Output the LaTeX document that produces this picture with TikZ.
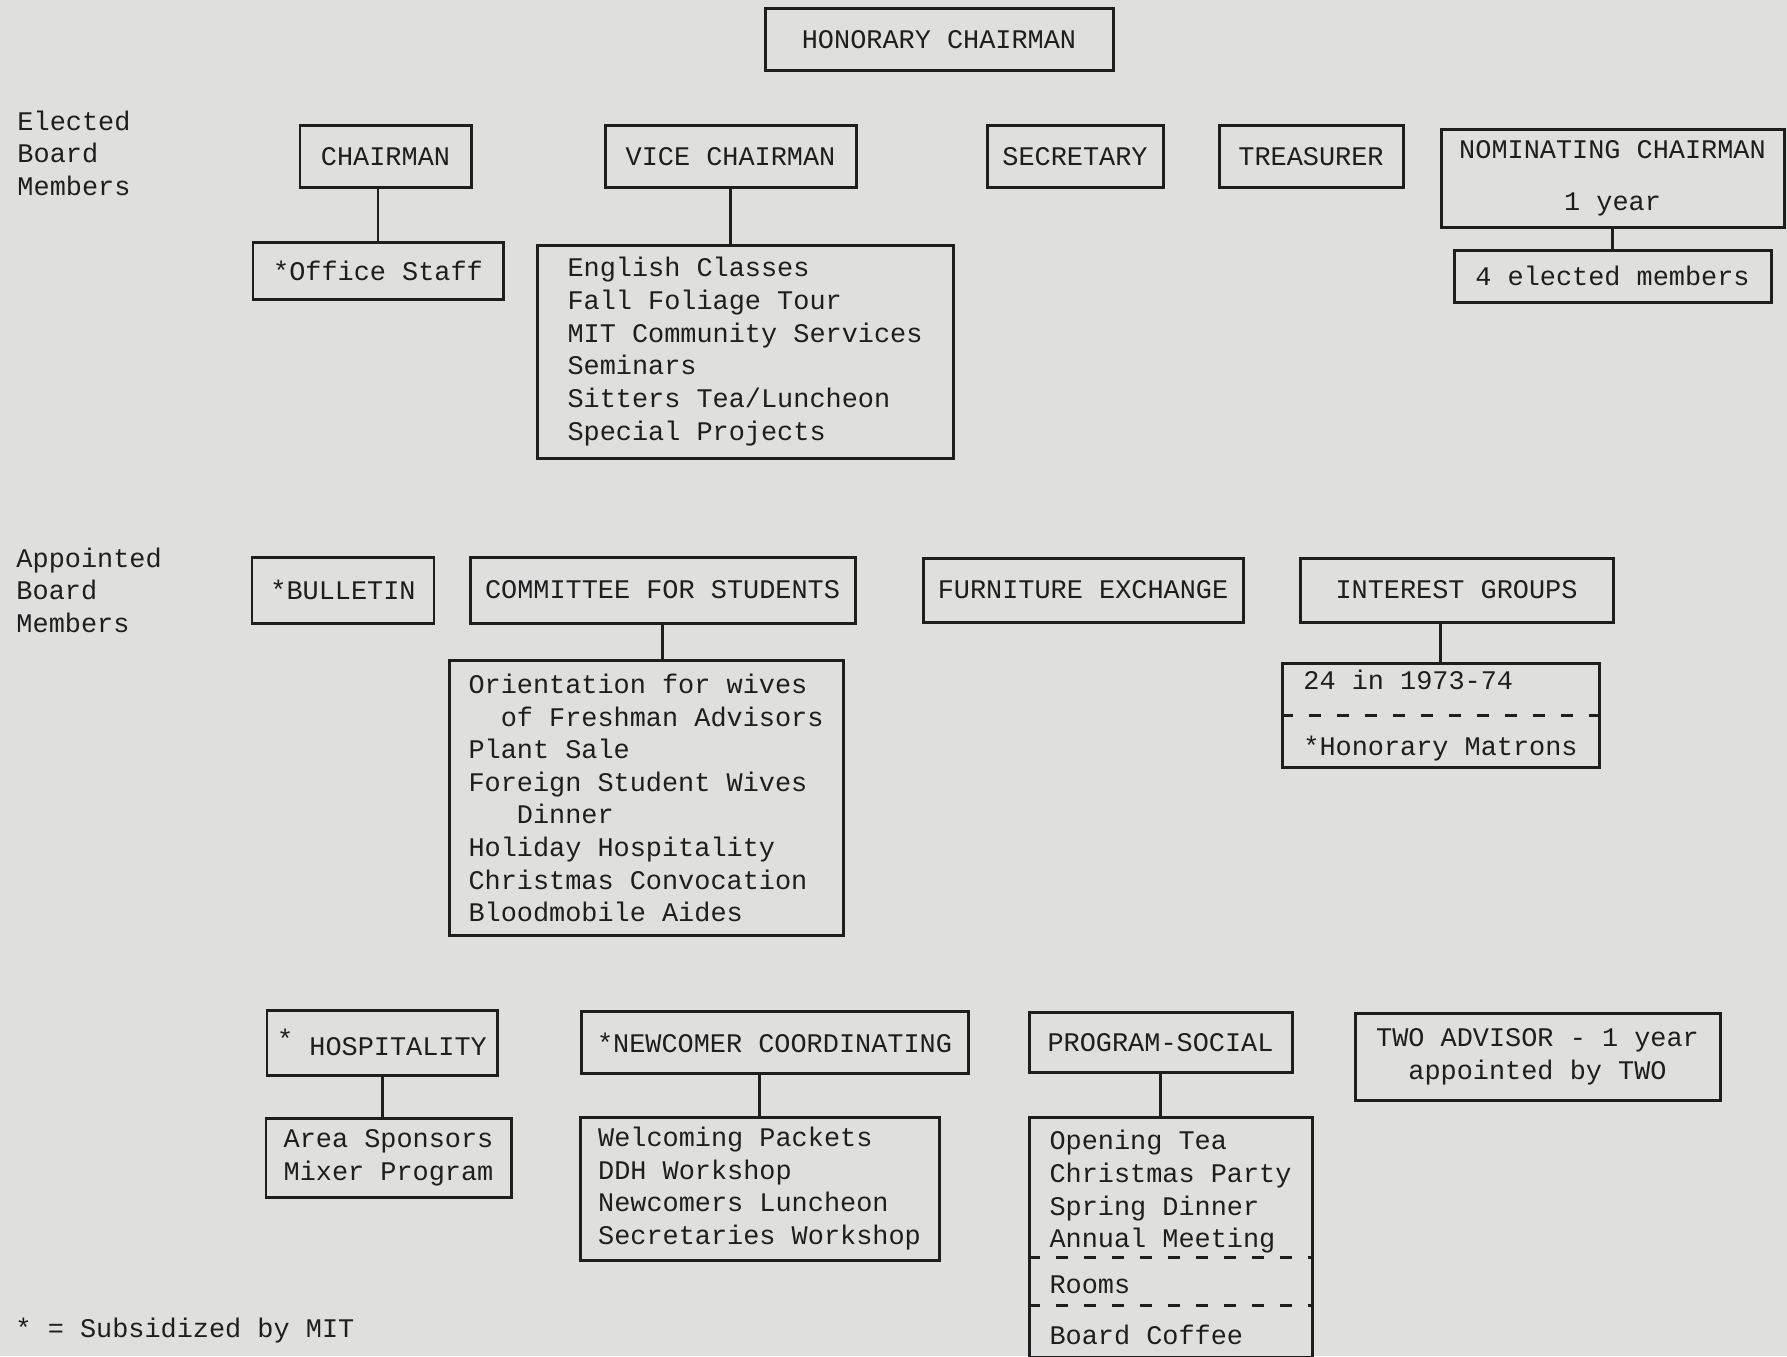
\documentclass[tikz,border=0pt]{standalone}
\usepackage{fontspec}
\setmonofont{Liberation Mono}
\usepackage{tikz}
\usetikzlibrary{positioning,calc}
\definecolor{paper}{RGB}{223,223,222}
\definecolor{ink}{RGB}{30,30,30}
\tikzstyle{postbox}=[draw=ink, text=ink, minimum height=0.62cm, inner sep=0.1cm, align=center]
\tikzstyle{dutybox}=[draw=ink, text=ink, inner xsep=0.1cm, inner ysep=0.05cm, align=left]
\tikzstyle{sidelabel}=[text=ink, anchor=west, inner sep=0pt, align=left]
\tikzstyle{link}=[draw=ink]
\tikzstyle{divider}=[draw=ink, dash pattern=on 0.12cm off 0.16cm]

\begin{document}
\begin{tikzpicture}[node distance=3cm, line width=0.85pt, font=\ttfamily\fontsize{7.65}{9.28}\selectfont]
    \path[use as bounding box, fill=paper] (0,0) rectangle (17.87,-13.56);
    % elected board
    \node [postbox, minimum width=3.48cm] (hon) at (9.39,-0.395) {HONORARY CHAIRMAN};
    \node [sidelabel] (elected) at (0.16,-1.53) {Elected\\Board\\Members};
    \node [postbox, minimum width=1.71cm] (chair) at (3.855,-1.565) {CHAIRMAN};
    \node [postbox, minimum width=2.51cm] (vice) [right of=chair, node distance=3.45cm] {VICE CHAIRMAN};
    \node [postbox, minimum width=1.76cm] (sec) [right of=vice, node distance=3.445cm] {SECRETARY};
    \node [postbox, minimum width=1.84cm] (treas) [right of=sec, node distance=2.36cm] {TREASURER};
    \node [postbox, minimum width=3.43cm, minimum height=0.98cm] (nom) [right of=treas, node distance=3.015cm, yshift=-0.215cm] {NOMINATING CHAIRMAN\\[0.19cm]1 year};
    \node [dutybox, minimum width=2.50cm, minimum height=0.57cm] (office) [below of=chair, node distance=1.14cm, xshift=-0.075cm] {*Office Staff};
    \node [dutybox, minimum width=4.16cm, minimum height=2.13cm] (vicelist) [below of=vice, node distance=1.95cm, xshift=0.145cm] {English Classes\\Fall Foliage Tour\\MIT Community Services\\Seminars\\Sitters Tea/Luncheon\\Special Projects};
    \node [dutybox, minimum width=3.17cm, minimum height=0.52cm] (nomlist) [below of=nom, node distance=0.98cm] {4 elected members};
    % appointed board
    \node [sidelabel] (appointed) at (0.15,-5.90) {Appointed\\Board\\Members};
    \node [postbox, minimum width=1.82cm, minimum height=0.66cm] (bulletin) at (3.43,-5.90) {*BULLETIN};
    \node [postbox, minimum width=3.85cm, minimum height=0.66cm] (students) [right of=bulletin, node distance=3.195cm] {COMMITTEE FOR STUDENTS};
    \node [postbox, minimum width=3.20cm, minimum height=0.64cm] (furn) [right of=students, node distance=4.205cm] {FURNITURE EXCHANGE};
    \node [postbox, minimum width=3.13cm, minimum height=0.64cm] (interest) [right of=furn, node distance=3.735cm] {INTEREST GROUPS};
    \node [dutybox, minimum width=3.94cm, minimum height=2.75cm] (studlist) [below of=students, node distance=2.08cm, xshift=-0.165cm] {Orientation for wives\\\phantom{xx}of Freshman Advisors\\Plant Sale\\Foreign Student Wives\\\phantom{xxx}Dinner\\Holiday Hospitality\\Christmas Convocation\\Bloodmobile Aides};
    \node [dutybox, minimum width=3.17cm, minimum height=1.04cm] (intlist) [below of=interest, node distance=1.255cm, xshift=-0.16cm] {24 in 1973-74\\[0.33cm]*Honorary Matrons};
    \node [postbox, minimum width=2.30cm, minimum height=0.65cm] (hosp) at (3.82,-10.425) {\raisebox{0.5ex}{*} HOSPITALITY};
    \node [postbox, minimum width=3.87cm] (newc) [right of=hosp, node distance=3.925cm] {*NEWCOMER COORDINATING};
    \node [postbox, minimum width=2.63cm, minimum height=0.60cm] (prog) [right of=newc, node distance=3.86cm] {PROGRAM-SOCIAL};
    \node [postbox, minimum width=3.65cm, minimum height=0.87cm] (two) [right of=prog, node distance=3.77cm, yshift=-0.145cm] {TWO ADVISOR - 1 year\\appointed by TWO};
    \node [dutybox, minimum width=2.45cm, minimum height=0.79cm] (hosplist) [below of=hosp, node distance=1.15cm, xshift=0.065cm] {Area Sponsors\\Mixer Program};
    \node [dutybox, minimum width=3.59cm, minimum height=1.43cm] (newclist) [below of=newc, node distance=1.46cm, xshift=-0.15cm] {Welcoming Packets\\DDH Workshop\\Newcomers Luncheon\\Secretaries Workshop};
    \node [dutybox, minimum width=2.83cm, minimum height=2.40cm] (proglist) [below of=prog, node distance=1.95cm, xshift=0.1cm] {Opening Tea\\Christmas Party\\Spring Dinner\\Annual Meeting\\[0.134cm]Rooms\\[0.18cm]Board Coffee};
    \node [sidelabel] (key) at (0.14,-13.31) {* = Subsidized by MIT};
    % dashed splits
    \coordinate (cutA) at ($(proglist.north west)!0.583!(proglist.south west)$);
    \coordinate (cutB) at ($(proglist.north west)!0.779!(proglist.south west)$);
    \path[divider] (intlist.west) -- (intlist.east);
    \path[divider] (cutA) -- (cutA -| proglist.east);
    \path[divider] (cutB) -- (cutB -| proglist.east);
    \path[link]
    (office.north) edge (office.north |- chair.south)
    (vice.south) edge (vice.south |- vicelist.north)
    (nomlist.north) edge (nomlist.north |- nom.south)
    (students.south) edge (students.south |- studlist.north)
    (intlist.north) edge (intlist.north |- interest.south)
    (hosp.south) edge (hosp.south |- hosplist.north)
    (newclist.north) edge (newclist.north |- newc.south)
    (prog.south) edge (prog.south |- proglist.north);
\end{tikzpicture}
\end{document}
